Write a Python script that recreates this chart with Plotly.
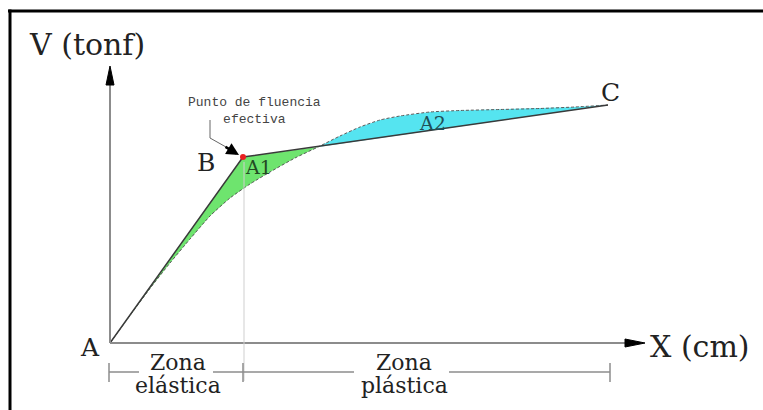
import plotly.graph_objects as go

# ---------------- data (abstract units: 1 unit of X / V) ----------------
# idealised bilinear capacity curve A -> B -> C
bilinear_labels = ["A", "B", "C"]
bilinear_x = [0.0, 1.33, 4.98]
bilinear_v = [0.0, 1.86, 2.38]

# actual (dashed) capacity curve
curve_x = [0.0, 0.20, 0.40, 0.60, 0.80, 1.00, 1.20, 1.40, 1.60, 1.85, 2.08,
           2.30, 2.50, 2.70, 2.90, 3.20, 3.50, 3.90, 4.30, 4.65, 4.98]
curve_v = [0.0, 0.275, 0.545, 0.80, 1.04, 1.27, 1.45, 1.59, 1.71, 1.85, 1.96,
           2.07, 2.16, 2.23, 2.27, 2.31, 2.325, 2.335, 2.345, 2.36, 2.38]
cross_index = 10  # point where the dashed curve crosses the bilinear line

zone_labels = [["Zona", "elástica"], ["Zona", "plástica"]]
area_labels = ["A1", "A2"]
axis_titles = ["X (cm)", "V (tonf)"]
yield_label = "Punto de fluencia<br>efectiva"

# ---------------- layout helpers (pixel -> data) ----------------
W, H = 763, 410
OX, OY, S = 110.0, 343.0, 100.0


def X(px):
    return (px - OX) / S


def Y(py):
    return (OY - py) / S


SERIF = "DejaVu Serif"
GREY = "#8c8c8c"

fig = go.Figure()

# green area A1: bilinear A->B->crossing, back along the curve
gx = [bilinear_x[0], bilinear_x[1], curve_x[cross_index]] + curve_x[cross_index - 1::-1]
gy = [bilinear_v[0], bilinear_v[1], curve_v[cross_index]] + curve_v[cross_index - 1::-1]
fig.add_trace(go.Scatter(x=gx, y=gy, fill="toself", fillcolor="#6ee46e",
                         line=dict(width=0), mode="lines", hoverinfo="skip"))

# cyan area A2: along the curve from crossing to C, back along the straight segment
cx = curve_x[cross_index:] + [curve_x[cross_index]]
cy = curve_v[cross_index:] + [curve_v[cross_index]]
fig.add_trace(go.Scatter(x=cx, y=cy, fill="toself", fillcolor="#55e4f0",
                         line=dict(width=0), mode="lines", hoverinfo="skip"))

# dashed actual curve
fig.add_trace(go.Scatter(x=curve_x, y=curve_v, mode="lines", hoverinfo="skip",
                         line=dict(color="#5a5a5a", width=1, dash="3px,2px", shape="spline",
                                   smoothing=0.6)))

# bilinear solid line
fig.add_trace(go.Scatter(x=bilinear_x, y=bilinear_v, mode="lines", hoverinfo="skip",
                         line=dict(color="#3a3a3a", width=1.5)))

# effective yield point (B)
fig.add_trace(go.Scatter(x=[bilinear_x[1]], y=[bilinear_v[1]], mode="markers", hoverinfo="skip",
                         marker=dict(color="#e82020", size=6)))

shapes = []
# frame (top and left edges visible)
shapes.append(dict(type="line", x0=X(8), x1=X(W), y0=Y(11), y1=Y(11),
                   line=dict(color="black", width=3)))
shapes.append(dict(type="line", x0=X(10), x1=X(10), y0=Y(9.5), y1=Y(H),
                   line=dict(color="black", width=3)))
# axes lines
shapes.append(dict(type="line", x0=X(OX), x1=X(630), y0=0, y1=0, line=dict(color=GREY, width=2)))
shapes.append(dict(type="line", x0=0, x1=0, y0=0, y1=Y(80), line=dict(color=GREY, width=2)))
# arrow heads
shapes.append(dict(type="path", path=f"M {X(645)},{Y(343)} L {X(625)},{Y(339)} L {X(625)},{Y(347)} Z",
                   fillcolor="black", line=dict(color="black", width=1)))
shapes.append(dict(type="path", path=f"M {X(110)},{Y(66)} L {X(106)},{Y(85)} L {X(114)},{Y(85)} Z",
                   fillcolor="black", line=dict(color="black", width=1)))
# thin vertical line at yield displacement
shapes.append(dict(type="line", x0=bilinear_x[1] + 0.01, x1=bilinear_x[1] + 0.01, y0=Y(162), y1=Y(381),
                   line=dict(color="#cfcfcf", width=1)))
# zone bracket
for a, b in [(109, 139), (213, 354), (449, 610)]:
    shapes.append(dict(type="line", x0=X(a), x1=X(b), y0=Y(372), y1=Y(372),
                       line=dict(color=GREY, width=1.5)))
for t in [109, 243, 610]:
    shapes.append(dict(type="line", x0=X(t), x1=X(t), y0=Y(363), y1=Y(382),
                       line=dict(color=GREY, width=1.5)))
# leader line to the yield point
shapes.append(dict(type="path", path=f"M {X(210)},{Y(120)} L {X(210)},{Y(138)} L {X(226)},{Y(147)}",
                   line=dict(color="#666666", width=1)))

ann = []


def txt(text, px, py, size, color="#222222", family=SERIF, xanchor="center"):
    ann.append(dict(text=text, x=X(px), y=Y(py), xref="x", yref="y", showarrow=False,
                    font=dict(family=family, size=size, color=color),
                    xanchor=xanchor, yanchor="middle"))


txt(axis_titles[1], 27, 44, 30, xanchor="left")
txt(axis_titles[0], 648, 346, 30, xanchor="left")
txt(bilinear_labels[0], 90, 347, 25)
txt(bilinear_labels[1], 206, 162, 25)
txt(bilinear_labels[2], 610, 92, 25)
txt(area_labels[0], 258, 167, 19, color="#234a23")
txt(area_labels[1], 432, 123, 19, color="#1e5058")
txt(zone_labels[0][0], 178, 362, 22)
txt(zone_labels[0][1], 178, 385, 22)
txt(zone_labels[1][0], 404, 362, 22)
txt(zone_labels[1][1], 404, 385, 22)
txt(yield_label, 254, 111, 13, color="#444444", family="Liberation Mono")

# black arrow into the yield point
ann.append(dict(text="", x=X(239), y=Y(155), xref="x", yref="y", ax=-15, ay=-9,
                showarrow=True, arrowhead=2, arrowsize=1, arrowwidth=2.5, arrowcolor="black"))

fig.update_layout(
    width=W, height=H, margin=dict(l=0, r=0, t=0, b=0),
    paper_bgcolor="white", plot_bgcolor="white", showlegend=False, hovermode=False,
    xaxis=dict(range=[X(0), X(W)], visible=False, fixedrange=True),
    yaxis=dict(range=[Y(H), Y(0)], visible=False, fixedrange=True),
    shapes=shapes, annotations=ann,
)

fig.write_html("out.html", config={"displayModeBar": False},
               post_script="document.body.style.margin='0';document.body.style.overflow='hidden';")
